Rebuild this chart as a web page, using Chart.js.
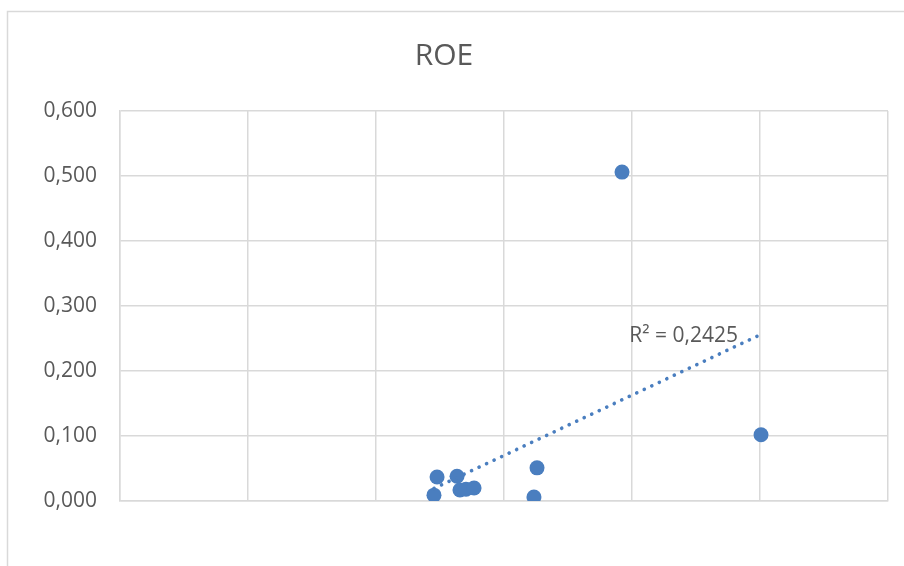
<!DOCTYPE html>
<html>
<head>
<meta charset="utf-8">
<script src="https://cdn.jsdelivr.net/npm/chart.js@4/dist/chart.umd.min.js"></script>
<style>
  html, body { margin: 0; padding: 0; background: #ffffff; }
  #wrap { width: 904px; height: 566px; position: relative; }
</style>
</head>
<body>
<div id="wrap"><canvas id="c" width="904" height="566"></canvas></div>
<script>
// ---- Data ----
const chartTitle = "ROE";
const xValues = [2.453, 2.477, 2.633, 2.656, 2.703, 2.766, 3.234, 3.258, 3.922, 5.008];
const roeValues = [0.009, 0.037, 0.038, 0.017, 0.018, 0.020, 0.006, 0.051, 0.506, 0.102];
const yTickValues = [0, 0.1, 0.2, 0.3, 0.4, 0.5, 0.6];
const xRange = [0, 6];
const r2Label = "R² = 0,2425";

// ---- Linear trendline (least squares) ----
const n = xValues.length;
const mx = xValues.reduce((a, b) => a + b, 0) / n;
const my = roeValues.reduce((a, b) => a + b, 0) / n;
let sxy = 0, sxx = 0;
for (let i = 0; i < n; i++) { sxy += (xValues[i] - mx) * (roeValues[i] - my); sxx += (xValues[i] - mx) ** 2; }
const slope = sxy / sxx;
const intercept = my - slope * mx;
const xMin = Math.min(...xValues), xMax = Math.max(...xValues);
const trendPoints = [xMin, xMax].map(x => ({ x: x, y: intercept + slope * x }));
const scatterPoints = xValues.map((x, i) => ({ x: x, y: roeValues[i] }));

const TEXT = '#595959';
const GRID = '#d9d9d9';
const BLUE = '#4a7ebf';

const outerBorder = {
  id: 'outerBorder',
  beforeDraw(chart) {
    const ctx = chart.ctx;
    ctx.save();
    ctx.fillStyle = '#ffffff';
    ctx.fillRect(0, 0, chart.width, chart.height);
    ctx.strokeStyle = GRID;
    ctx.lineWidth = 1.5;
    ctx.strokeRect(7.5, 11.5, 1200, 1200);
    ctx.restore();
  }
};

const r2Plugin = {
  id: 'r2Plugin',
  afterDatasetsDraw(chart) {
    const ctx = chart.ctx;
    const xs = chart.scales.x, ys = chart.scales.y;
    const end = trendPoints[1];
    const px = xs.getPixelForValue(end.x);
    const py = ys.getPixelForValue(end.y);
    ctx.save();
    ctx.font = '21px "Open Sans"';
    ctx.fillStyle = TEXT;
    ctx.textAlign = 'right';
    ctx.textBaseline = 'alphabetic';
    ctx.fillText(r2Label, px - 23, py + 8);
    ctx.restore();
  }
};

new Chart(document.getElementById('c'), {
  type: 'scatter',
  data: {
    datasets: [
      {
        label: 'Trend',
        data: trendPoints,
        showLine: true,
        borderColor: BLUE,
        borderWidth: 3.6,
        borderDash: [0.1, 8.2],
        borderCapStyle: 'round',
        pointRadius: 0,
        fill: false,
        order: 0
      },
      {
        label: 'ROE',
        data: scatterPoints,
        backgroundColor: BLUE,
        borderColor: BLUE,
        borderWidth: 0,
        pointRadius: 7.5,
        pointHoverRadius: 7.5,
        order: 1
      }
    ]
  },
  options: {
    responsive: false,
    animation: false,
    devicePixelRatio: 1,
    layout: { padding: { left: 0, right: 16, top: 0, bottom: 65 } },
    plugins: {
      legend: { display: false },
      tooltip: { enabled: false },
      title: {
        display: true,
        text: chartTitle,
        color: TEXT,
        font: { family: '"Open Sans"', size: 30, weight: 'normal', lineHeight: 1.2 },
        padding: { top: 38, bottom: 37 }
      }
    },
    scales: {
      x: {
        type: 'linear',
        min: xRange[0],
        max: xRange[1],
        ticks: { display: false, stepSize: 1 },
        grid: { color: GRID, lineWidth: 1.5, drawTicks: false },
        border: { display: true, color: GRID, width: 1.5 },
        afterFit(scale) { scale.height = 0; }
      },
      y: {
        min: 0,
        max: 0.6,
        afterBuildTicks(scale) { scale.ticks = yTickValues.map(v => ({ value: v })); },
        ticks: {
          color: TEXT,
          padding: 23,
          font: { family: '"Open Sans"', size: 21 },
          callback: v => v.toFixed(3).replace('.', ',')
        },
        grid: { color: GRID, lineWidth: 1.5, drawTicks: false },
        border: { display: true, color: GRID, width: 1.5 },
        afterFit(scale) { scale.width = 120; }
      }
    }
  },
  plugins: [outerBorder, r2Plugin]
});
</script>
</body>
</html>
